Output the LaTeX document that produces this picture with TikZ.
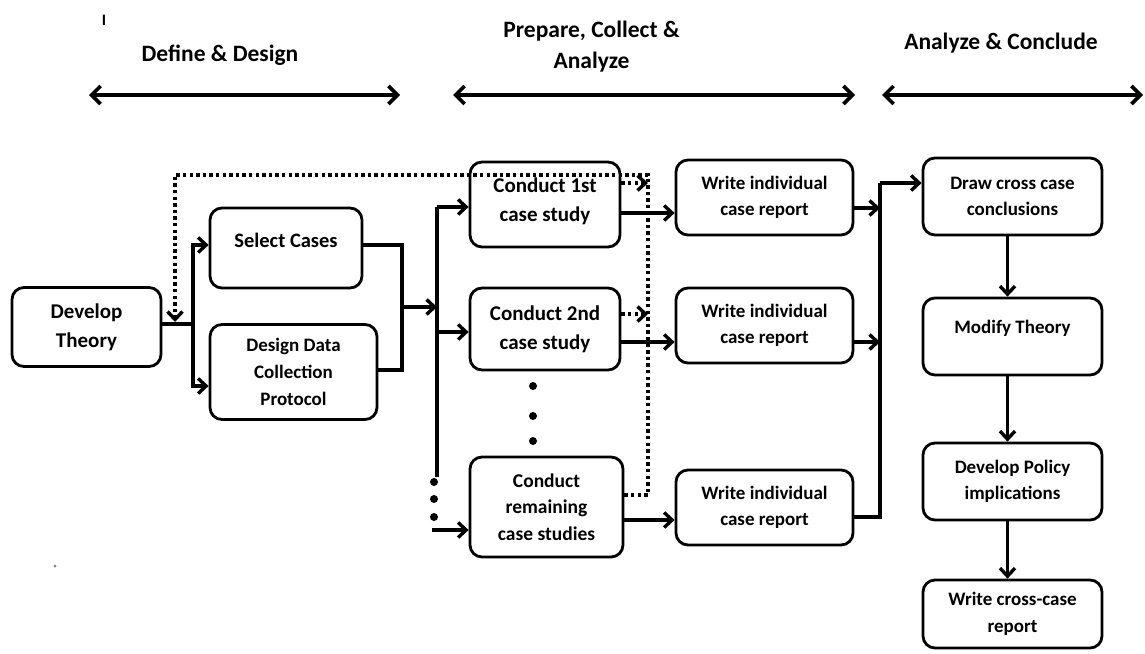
\documentclass[tikz,border=0pt]{standalone}
\usepackage{fontspec}
\setmainfont{Carlito}
\usetikzlibrary{arrows.meta}
\begin{document}
\begin{tikzpicture}[x=1pt,y=-1pt,
  box/.style={draw,line width=2.8pt,rounded corners=12pt,align=center,inner sep=0pt},
  fa/.style={font=\fontsize{21}{29}\selectfont\bfseries},
  fb/.style={font=\fontsize{19}{26.5}\selectfont\bfseries},
  hdr/.style={align=center,font=\fontsize{23.5}{31}\selectfont\bfseries},
  conn/.style={line width=3.4pt},
  tip/.style={-{Straight Barb[length=8pt,width=15pt]}},
  arr/.style={conn,tip},
  dotline/.style={line width=3.4pt,dash pattern=on 3.4pt off 3.2pt},
  dotarr/.style={dotline,tip},
  harr/.style={line width=3.6pt,{Straight Barb[length=9pt,width=18pt]}-{Straight Barb[length=9pt,width=18pt]}},
  dotmark/.style={fill,circle,inner sep=0pt,minimum size=8pt}]
\useasboundingbox (0,0) rectangle (1145,653);

% stray marks
\node[font=\fontsize{16}{18}\selectfont\bfseries] (mark) at (104,20) {I};
\fill[gray] (55,566) circle (1.5pt);

% headers
\node[hdr] (h1) at (220,55) {Define \& Design};
\node[hdr] (h2) at (591.5,47) {Prepare, Collect \&\\Analyze};
\node[hdr] (h3) at (1001,43) {Analyze \& Conclude};
\coordinate (h1a) at (89,95);  \coordinate (h1b) at (400,95);
\coordinate (h2a) at (453,95); \coordinate (h2b) at (855,95);
\coordinate (h3a) at (882,95); \coordinate (h3b) at (1143,95);
\draw[harr] (h1a) -- (h1b);
\draw[harr] (h2a) -- (h2b);
\draw[harr] (h3a) -- (h3b);

% boxes
\node[box,fa,minimum width=149pt,minimum height=79pt] (dt) at (86.5,327) {Develop\\Theory};
\node[box,fa,font=\fontsize{20.5}{29}\selectfont\bfseries,minimum width=152pt,minimum height=80pt] (sc) at (286,248) {\raisebox{8pt}[\height][\depth]{Select Cases}};
\node[box,fb,minimum width=167pt,minimum height=95pt,font=\fontsize{19}{27}\selectfont\bfseries] (dd) at (293.5,372) {Design Data\\Collection\\Protocol};
\node[box,fa,minimum width=150pt,minimum height=85pt] (c1) at (545,204.5) {\raisebox{3pt}[\height][\depth]{\begin{tabular}{@{}c@{}}Conduct 1st\\case study\end{tabular}}};
\node[box,fa,minimum width=150pt,minimum height=82pt] (c2) at (545,329) {Conduct 2nd\\case study};
\node[box,fb,minimum width=153pt,minimum height=100pt,font=\fontsize{19.5}{26.5}\selectfont\bfseries] (cr) at (546.5,507) {Conduct\\remaining\\case studies};
\node[box,fb,minimum width=177pt,minimum height=75pt] (w1) at (764.5,197.5) {Write individual\\case report};
\node[box,fb,minimum width=177pt,minimum height=75pt] (w2) at (764.5,325.5) {Write individual\\case report};
\node[box,fb,minimum width=177pt,minimum height=75pt] (w3) at (764.5,507.5) {Write individual\\case report};
\node[box,fb,minimum width=179pt,minimum height=77pt] (dc) at (1012.5,196.5) {Draw cross case\\conclusions};
\node[box,fb,minimum width=179pt,minimum height=77pt] (mt) at (1012.5,336.5) {\raisebox{8pt}[\height][\depth]{Modify Theory}};
\node[box,fb,minimum width=179pt,minimum height=77pt] (dp) at (1012.5,481.5) {Develop Policy\\implications};
\node[box,fb,minimum width=179pt,minimum height=68pt] (wc) at (1012.5,614) {Write cross-case\\report};

% define & design connectors
\coordinate (jA) at (193,324);
\draw[conn] (dt.east |- jA) -- (jA);
\draw[arr] (jA) |- ([yshift=3pt]sc.west);
\draw[arr] (jA) |- ([yshift=-14pt]dd.west);
\coordinate (jB) at (402,307);
\draw[conn] ([yshift=3pt]sc.east) -| (jB);
\draw[conn] ([yshift=2pt]dd.east) -| (jB);
\coordinate (bus) at (437,307);
\draw[arr] (jB) -- (bus);

% bus to case studies
\coordinate (b1) at (437,207);
\coordinate (b2) at (437,332);
\coordinate (b3) at (437,477);
\coordinate (b4) at (432,530);
\draw[conn] (b1) -- (b3);
\draw[arr] (b1) -- (b1 -| c1.west);
\draw[arr] (b2) -- (b2 -| c2.west);
\draw[arr] (b4) -- (b4 -| cr.west);
\node[dotmark] (d1) at (434,482) {};
\node[dotmark] (d2) at (434,499) {};
\node[dotmark] (d3) at (434,517) {};
\node[dotmark] (e1) at (533,386) {};
\node[dotmark] (e2) at (533,416) {};
\node[dotmark] (e3) at (533,441) {};

% case studies to reports
\draw[arr] ([yshift=-8.5pt]c1.east) -- ([yshift=-8.5pt]c1.east -| w1.west);
\draw[arr] ([yshift=-13pt]c2.east) -- ([yshift=-13pt]c2.east -| w2.west);
\draw[arr] ([yshift=-13pt]cr.east) -- ([yshift=-13pt]cr.east -| w3.west);

% dotted feedback
\coordinate (fb0) at (648,495);
\coordinate (fb1) at (648,175);
\coordinate (fb2) at (175,175);
\coordinate (fb3) at (175,322);
\draw[dotarr] ([yshift=12pt]cr.east) -- (fb0) -- (fb1) -- (fb2) -- (fb3);
\draw[dotarr] ([yshift=21.5pt]c1.east) -- ([yshift=21.5pt]c1.east -| fb1);
\draw[dotarr] ([yshift=15pt]c2.east) -- ([yshift=15pt]c2.east -| fb1);

% reports to conclusions
\coordinate (m1) at (880,517);
\coordinate (m2) at (880,183);
\draw[arr] ([yshift=-10.5pt]w1.east) -- ([yshift=-10.5pt]w1.east -| m1);
\draw[arr] ([yshift=-16.5pt]w2.east) -- ([yshift=-16.5pt]w2.east -| m1);
\draw[conn] ([yshift=-9.5pt]w3.east) -- (m1) -- (m2);
\draw[arr] (m2) -- (m2 -| dc.west);

% right column
\draw[arr] ([xshift=-5pt]dc.south) -- ([xshift=-5pt]mt.north);
\draw[arr] ([xshift=-5pt]mt.south) -- ([xshift=-5pt]dp.north);
\draw[arr] ([xshift=-5pt]dp.south) -- ([xshift=-5pt]wc.north);
\end{tikzpicture}
\end{document}
